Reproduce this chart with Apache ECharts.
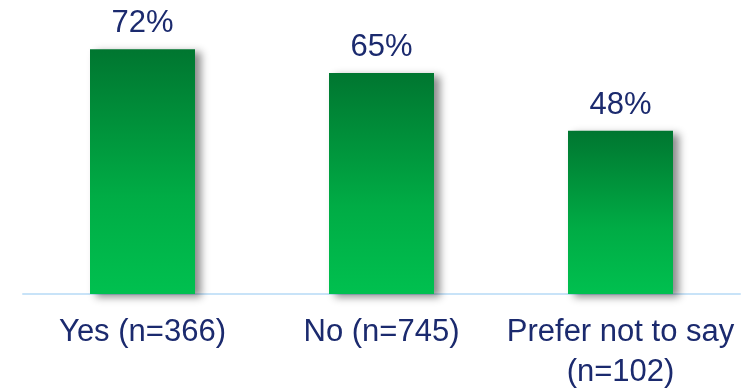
<!DOCTYPE html>
<html>
<head>
<meta charset="utf-8">
<script src="https://cdn.jsdelivr.net/npm/echarts@6/dist/echarts.min.js"></script>
<style>html,body{margin:0;padding:0;background:#fff}#c{width:749px;height:388px}</style>
</head>
<body>
<div id="c"></div>
<script>
const categories = ['Yes (n=366)', 'No (n=745)', 'Prefer not to say\n(n=102)'];
const values = [72, 65, 48];

const chart = echarts.init(document.getElementById('c'), null, {renderer: 'canvas'});
const textColor = '#1b2a6e';
chart.setOption({
  animation: false,
  grid: {left: 23, right: 9, top: 0, bottom: 94, containLabel: false, outerBoundsMode: 'none'},
  xAxis: {
    type: 'category',
    data: categories,
    axisLine: {show: true, lineStyle: {color: '#c8e3f8', width: 2}},
    axisTick: {show: false},
    axisLabel: {
      color: textColor, fontFamily: 'Liberation Sans, Arial, sans-serif', fontSize: 31,
      lineHeight: 40, margin: 18, interval: 0
    }
  },
  yAxis: {
    type: 'value', min: 0, max: 86.5,
    show: false, splitLine: {show: false}
  },
  series: [{
    type: 'bar',
    data: values,
    barWidth: 105,
    itemStyle: {
      color: new echarts.graphic.LinearGradient(0, 0, 0, 1, [
        {offset: 0, color: '#007630'},
        {offset: 0.6, color: '#00ac45'},
        {offset: 1, color: '#00c04f'}
      ]),
      shadowColor: 'rgba(0,0,0,0.45)',
      shadowBlur: 8,
      shadowOffsetX: 6,
      shadowOffsetY: 3
    },
    label: {
      show: true, position: 'top', distance: 10,
      formatter: '{c}%',
      color: textColor, fontFamily: 'Liberation Sans, Arial, sans-serif', fontSize: 31
    }
  }]
});
</script>
</body>
</html>
